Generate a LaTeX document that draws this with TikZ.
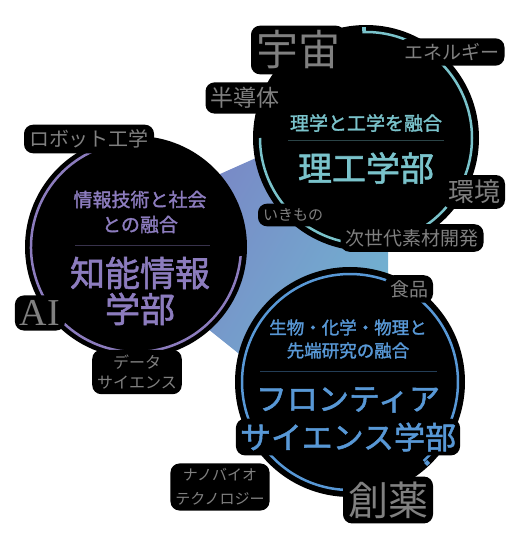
\documentclass[tikz,border=0pt]{standalone}
\usepackage{fontspec}
\newfontfamily\jp{Noto Sans CJK JP}
\newfontfamily\jpm[FakeBold=1.6]{Noto Sans CJK JP}
\newfontfamily\rom{Liberation Serif}
\definecolor{rikou}{RGB}{122,195,203}
\definecolor{chinou}{RGB}{140,124,190}
\definecolor{frontier}{RGB}{88,152,214}
\definecolor{wortgrau}{RGB}{128,128,128}
\definecolor{gradlila}{RGB}{124,120,194}
\definecolor{gradblau}{RGB}{92,154,216}
\definecolor{gradtuerkis}{RGB}{112,184,210}
\tikzset{
	titel/.style 2 args={font=\jpm\fontsize{#1}{#2}\selectfont,align=center,inner sep=0pt},
	hof/.style={fill=black,rounded corners=9pt,inner sep=5pt},
	wort/.style 2 args={font=\jp\fontsize{#1}{#2}\selectfont,align=center,text=wortgrau,hof},
	ring/.style={line width=2.5},
	trenner/.style={line width=0.7}
}
\begin{document}
\begin{tikzpicture}[x=1pt,y=1pt]
	\useasboundingbox (0,0) rectangle (526,539);
	\coordinate (T) at (366,401);
	\coordinate (L) at (136,292);
	\coordinate (B) at (350,157);
	% Hintergrund
	\shade[left color=gradlila,middle color=gradblau,right color=gradtuerkis,shading angle=60] (88,306) -- (388,440) -- (388,66) -- cycle;
	% Scheiben
	\fill (T) circle (113);
	\fill (L) circle (111);
	\fill (B) circle (115);
	\draw[ring,rikou] (T) ++(180:106) arc[start angle=180,end angle=452,radius=106];
	\draw[ring,chinou] (L) ++(108:105) arc[start angle=108,end angle=355,radius=105];
	\draw[ring,frontier] (B) ++(-47:108) arc[start angle=-47,end angle=275,radius=108];
	\fill[rikou] (362,508) rectangle (366,512);
	\fill[frontier] (424,76) -- ++(3,3) -- ++(3,-3) -- ++(-3,-3) -- cycle;
	\draw[trenner,rikou!35!black] (288,399) -- (444,399);
	\draw[trenner,chinou!40!black] (75,294) -- (210,294);
	\draw[trenner,frontier!40!black] (260,168) -- (437,168);
	% Rigaku
	\node[titel={19}{19},text=rikou] (rikou-motto) at (366,416) {理学と工学を融合};
	\node[titel={34}{34},text=rikou] (rikou-name) at (366,371) {理工学部};
	\node[wort={42}{42}] (uchu) at (298,489) {宇宙};
	\node[wort={19}{19}] (energie) at (452,487) {エネルギー};
	\node[wort={23}{23}] (handotai) at (245,441) {半導体};
	\node[wort={26}{26}] (kankyo) at (474,347) {環境};
	\node[wort={15}{15}] (ikimono) at (293,324) {いきもの};
	\node[wort={19}{19}] (sozai) at (412,301) {次世代素材開発};
	% Chinou
	\node[titel={19}{25},text=chinou] (chinou-motto) at (140,327) {情報技術と社会\\との融合};
	\node[titel={35}{36},text=chinou] (chinou-name) at (140,248) {知能情報\\学部};
	\node[wort={20}{20}] (robot) at (89,400) {ロボット工学};
	\node[hof,text=wortgrau,font=\rom\fontsize{38}{38}\selectfont] (ai) at (40,226) {AI};
	\node[wort={16}{20}] (data) at (137,167) {データ\\サイエンス};
	% Frontier
	\node[titel={17.5}{23},text=frontier] (frontier-motto) at (348,200) {生物・化学・物理と\\先端研究の融合};
	\node[titel={31}{31},text=frontier] (frontier-name) at (348,139) {フロンティア};
	\node[titel={31}{31},text=frontier,hof,inner sep=4pt] (frontier-name2) at (348,102) {サイエンス学部};
	\node[wort={19}{19}] (shokuhin) at (409,250) {食品};
	\node[wort={15}{24}] (nano) at (220,52) {ナノバイオ\\テクノロジー};
	\node[wort={40}{40}] (soyaku) at (388,39) {創薬};
\end{tikzpicture}
\end{document}
